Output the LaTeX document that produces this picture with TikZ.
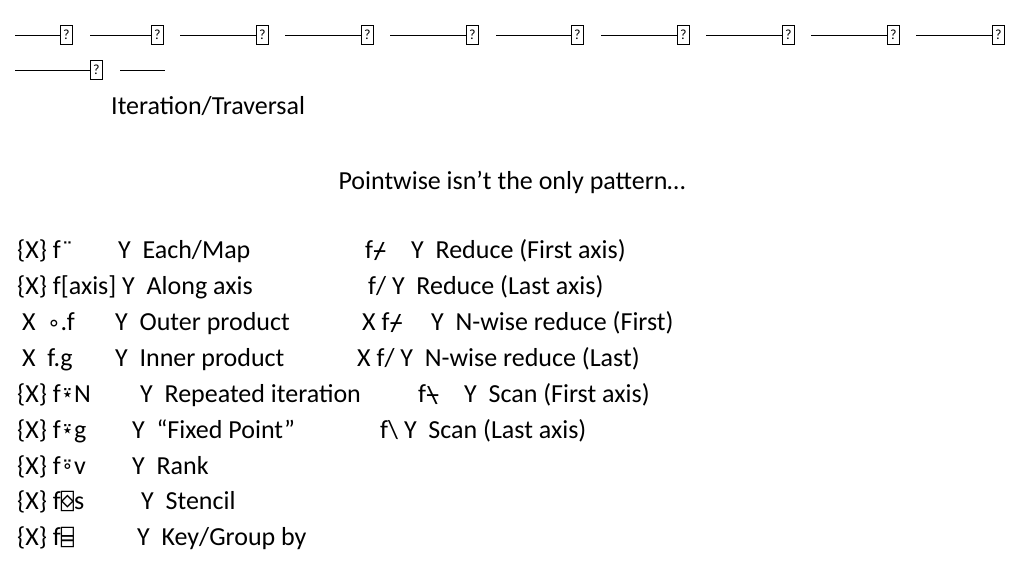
\documentclass[tikz,border=0pt]{standalone}
\usepackage{fontspec}
\setmainfont{Carlito}
\newfontfamily\aplfont{DejaVu Sans Mono}
\usetikzlibrary{positioning}

\newcommand{\apl}[1]{{\aplfont\fontsize{22}{24}\selectfont #1}}

\begin{document}
\begin{tikzpicture}[x=1pt, y=-1pt, font=\fontsize{26}{30}\selectfont]
\tikzset{
  txt/.style={anchor=base west, inner sep=0pt},
  qbox/.style={draw, line width=0.8pt, minimum width=12pt, minimum height=19pt, inner sep=0pt, font=\fontsize{14}{14}\selectfont},
  rule/.style={line width=1pt}
}
\useasboundingbox (0,0) rectangle (1024,576);

% missing-glyph strip
\foreach \a/\b [count=\i] in {15/60, 90/151, 180/256, 285/361, 390/466, 496/571, 601/677, 706/782, 811/887, 916/992}
{
  \node[qbox, anchor=west] (q\i) at (\b,35) {?};
  \coordinate (s\i) at (\a,35);
  \draw[rule] (s\i) -- (q\i.west);
}
\node[qbox, anchor=west] (q11) at (90,70) {?};
\coordinate (s11) at (15,70);
\draw[rule] (s11) -- (q11.west);
\coordinate (s12) at (120,70);
\coordinate (e12) at (165,70);
\draw[rule] (s12) -- (e12);

\node[txt] (title) at (111,114) {Iteration/Traversal};
\node[anchor=base, inner sep=0pt] (sub) at (512,189) {Pointwise isn’t the only pattern…};

% left column
\node[txt] (l1a) at (17,258) {\{X\} f\apl{¨}};
\node[txt] (l1b) at (118,258) {Y\ \ Each/Map};
\node[txt] (l2a) at (17,294) {\{X\} f[axis] Y\ \ Along axis};
\node[txt] (l3a) at (22,330) {X\ \ \apl{∘}.f};
\node[txt] (l3b) at (115,330) {Y\ \ Outer product};
\node[txt] (l4a) at (22,366) {X\ \ f.g};
\node[txt] (l4b) at (115,366) {Y\ \ Inner product};
\node[txt] (l5a) at (17,402) {\{X\} f\apl{⍣}N};
\node[txt] (l5b) at (140,402) {Y\ \ Repeated iteration};
\node[txt] (l6a) at (17,438) {\{X\} f\apl{⍣}g};
\node[txt] (l6b) at (132,438) {Y\ \ “Fixed Point”};
\node[txt] (l7a) at (17,474) {\{X\} f\apl{⍤}v};
\node[txt] (l7b) at (132,474) {Y\ \ Rank};
\node[txt] (l8a) at (17,509) {\{X\} f\apl{⌺}s};
\node[txt] (l8b) at (141,509) {Y\ \ Stencil};
\node[txt] (l9a) at (17,545) {\{X\} f\apl{⌸}};
\node[txt] (l9b) at (137,545) {Y\ \ Key/Group by};

% right column
\node[txt] (r1a) at (365,258) {f\apl{⌿}};
\node[txt] (r1b) at (411,258) {Y\ \ Reduce (First axis)};
\node[txt] (r2a) at (368,294) {f/ Y\ \ Reduce (Last axis)};
\node[txt] (r3a) at (362,330) {X f\apl{⌿}};
\node[txt] (r3b) at (431,330) {Y\ \ N-wise reduce (First)};
\node[txt] (r4a) at (357,366) {X f/ Y\ \ N-wise reduce (Last)};
\node[txt] (r5a) at (418,402) {f\apl{⍀}};
\node[txt] (r5b) at (464,402) {Y\ \ Scan (First axis)};
\node[txt] (r6a) at (380,438) {f\textbackslash\ Y\ \ Scan (Last axis)};
\end{tikzpicture}
\end{document}
